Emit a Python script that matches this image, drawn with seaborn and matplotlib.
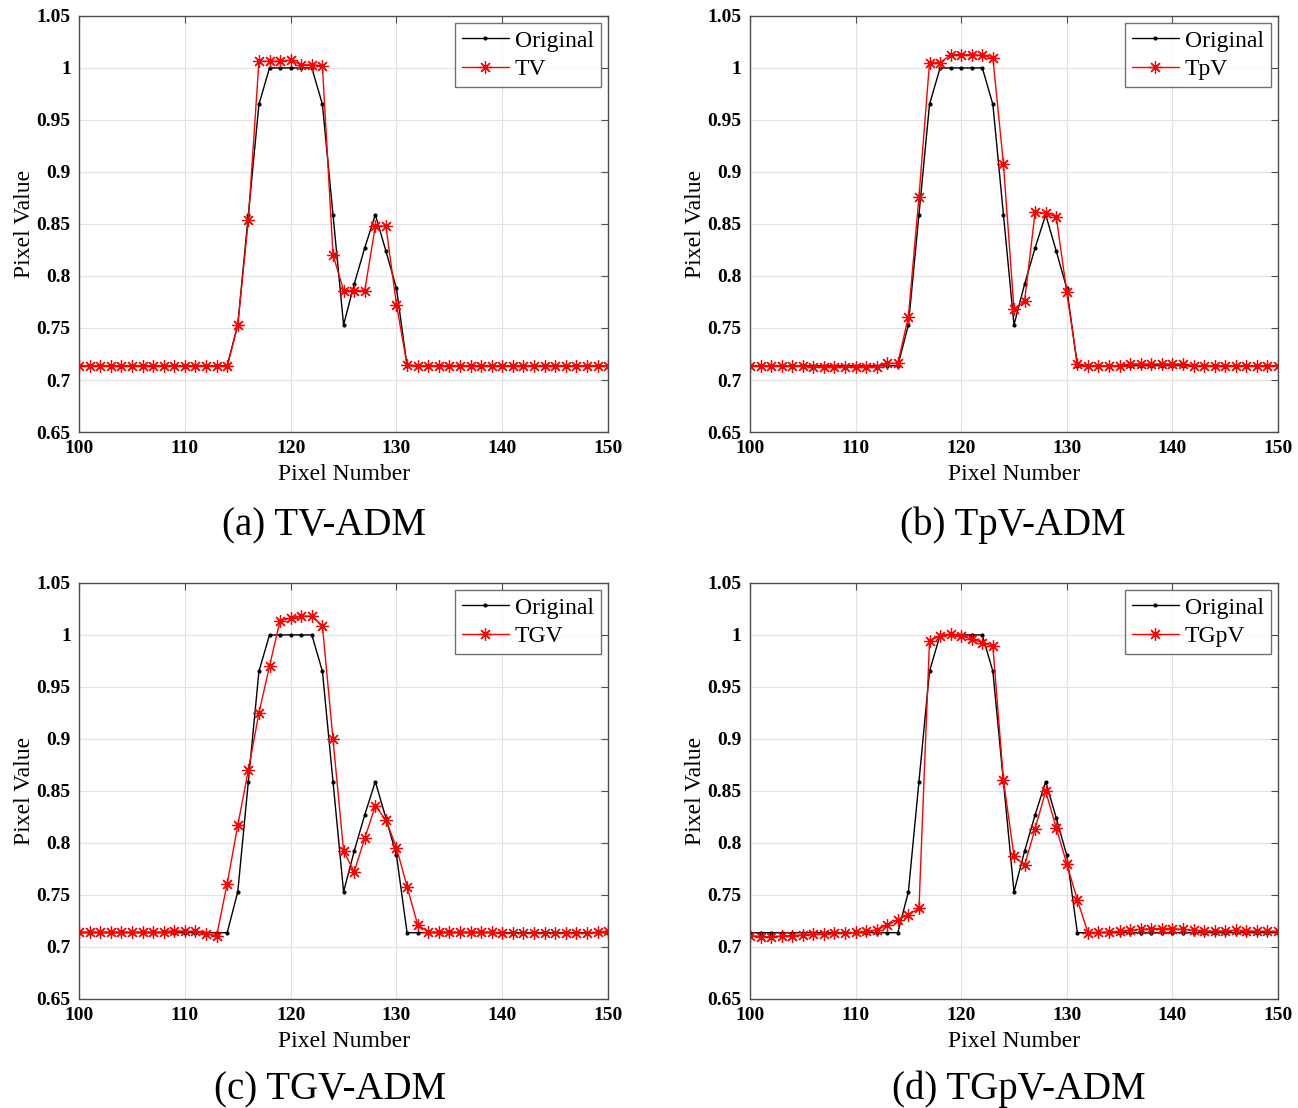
import matplotlib
matplotlib.use('Agg')
import matplotlib.pyplot as plt
from matplotlib.ticker import FuncFormatter
import seaborn as sns
import pandas as pd

# pixel positions along the profile
pixel = list(range(100, 151))

original = [0.7137] * 15 + [0.753, 0.859, 0.965, 1.0, 1.0, 1.0, 1.0, 1.0,
            0.965, 0.859, 0.753, 0.792, 0.827, 0.859, 0.824, 0.788] + [0.7137] * 20

tv = [0.7138] * 14 + [0.713, 0.753, 0.854, 1.0064, 1.0064, 1.0064, 1.0074, 1.003,
      1.003, 1.002, 0.8205, 0.786, 0.786, 0.786, 0.848, 0.848, 0.7724, 0.7147] + [0.7138] * 19

tpv = [0.7138] * 6 + [0.7128] * 7 + [0.716, 0.716, 0.761, 0.876, 1.005, 1.005, 1.0128,
       1.0128, 1.0128, 1.012, 1.0096, 0.9077, 0.768, 0.7756, 0.8615, 0.8603, 0.857,
       0.7843, 0.7154] + [0.7138] * 4 + [0.7154] * 6 + [0.7138] * 9

tgv = [0.7144] * 9 + [0.7157, 0.715, 0.715, 0.7125, 0.7106, 0.761, 0.817, 0.870, 0.925,
       0.970, 1.0138, 1.016, 1.018, 1.018, 1.0087, 0.8997, 0.7923, 0.7724, 0.8045, 0.8356,
       0.822, 0.7955, 0.758, 0.7215, 0.7144] + [0.7144] * 6 + [0.7132] * 9 + [0.7144, 0.715]

tgpv = [0.711, 0.710, 0.710, 0.7105, 0.711, 0.7115, 0.712, 0.7125, 0.713, 0.7135,
        0.714, 0.715, 0.7163, 0.721, 0.726, 0.731, 0.737, 0.9946, 0.999, 1.001,
        0.999, 0.996, 0.9926, 0.989, 0.8606, 0.7875, 0.7785, 0.8138, 0.8497, 0.8144,
        0.7798, 0.7452, 0.7138, 0.714, 0.7145, 0.715, 0.716, 0.717, 0.7175, 0.7175,
        0.7175, 0.717, 0.716, 0.7155, 0.715, 0.7155, 0.716, 0.7155, 0.715, 0.715, 0.715]

methods = ['TV', 'TpV', 'TGV', 'TGpV']
results = [tv, tpv, tgv, tgpv]
captions = ['(a) TV-ADM', '(b) TpV-ADM', '(c) TGV-ADM', '(d) TGpV-ADM']

sns.set_theme(style='white')
plt.rcParams['font.family'] = ['Liberation Serif', 'DejaVu Serif']
plt.rcParams['text.color'] = 'black'
plt.rcParams['axes.labelcolor'] = 'black'
plt.rcParams['xtick.color'] = 'black'
plt.rcParams['ytick.color'] = 'black'

fig = plt.figure(figsize=(12.98, 11.08), dpi=100)

# axes boxes [left, bottom, width, height] in figure fractions
boxes = [
    [0.0609, 0.6101, 0.4076, 0.3755],
    [0.5778, 0.6101, 0.4068, 0.3755],
    [0.0609, 0.0984, 0.4076, 0.3755],
    [0.5778, 0.0984, 0.4068, 0.3755],
]
caption_pos = [(0.25, 0.517), (0.78, 0.517), (0.254, 0.008), (0.785, 0.008)]

edge = '#4d4d4d'

for box, name, vals, cap, cpos in zip(boxes, methods, results, captions, caption_pos):
    ax = fig.add_axes(box)
    df = pd.DataFrame({'pixel': pixel, 'Original': original, name: vals})

    sns.lineplot(data=df, x='pixel', y='Original', ax=ax, color='black', lw=1.0,
                 marker='o', markersize=3, markeredgewidth=0, label='Original')
    sns.lineplot(data=df, x='pixel', y=name, ax=ax, color='red', lw=1.0,
                 marker=(8, 2, 0), markersize=9, markeredgewidth=0.9,
                 markeredgecolor='red', label=name)

    ax.set_xlim(100, 150)
    ax.set_ylim(0.65, 1.05)
    ax.set_xticks([100, 110, 120, 130, 140, 150])
    ax.set_yticks([0.65, 0.7, 0.75, 0.8, 0.85, 0.9, 0.95, 1.0, 1.05])
    ax.yaxis.set_major_formatter(FuncFormatter(lambda v, p: f'{v:g}'))
    ax.grid(True, color='#e2e2e2', lw=0.8)
    ax.set_axisbelow(True)

    for sp in ax.spines.values():
        sp.set_color(edge)
        sp.set_linewidth(1.0)

    ax.tick_params(direction='in', top=True, right=True, length=5, width=0.8,
                   color=edge, labelcolor='black', labelsize=14, pad=6)
    for lab in ax.get_xticklabels() + ax.get_yticklabels():
        lab.set_fontweight('bold')

    ax.set_xlabel('Pixel Number', fontsize=17, labelpad=5)
    ax.set_ylabel('Pixel Value', fontsize=17, labelpad=1)

    leg = ax.legend(loc='upper right', fontsize=17, frameon=True, fancybox=False,
                    borderaxespad=0.3, handlelength=2.0, handletextpad=0.25,
                    borderpad=0.3, labelspacing=0.3, numpoints=1)
    leg.get_frame().set_edgecolor(edge)
    leg.get_frame().set_linewidth(1.0)

    fig.text(cpos[0], cpos[1], cap, fontsize=28, ha='center', va='baseline')

fig.savefig('out.png', dpi=100)
plt.close(fig)
